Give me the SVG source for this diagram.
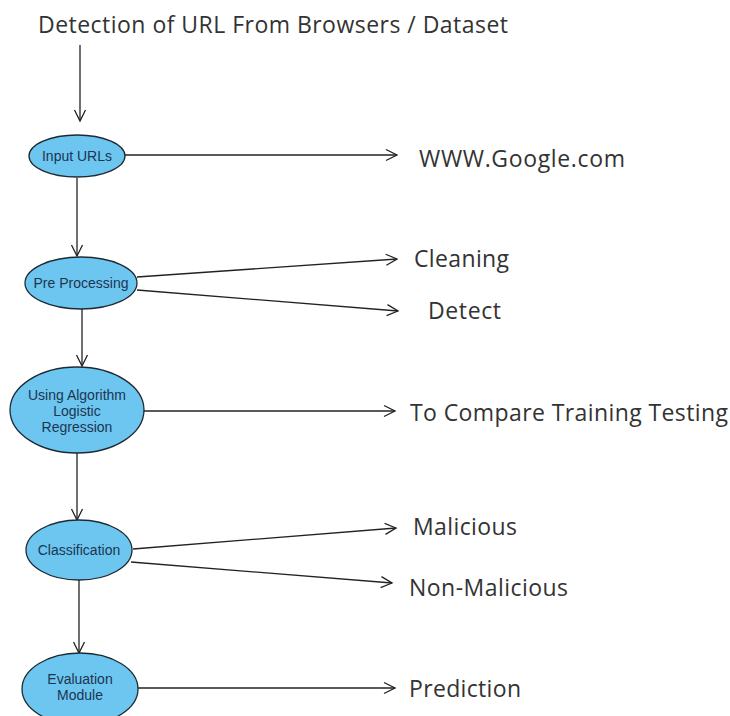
<svg xmlns="http://www.w3.org/2000/svg" width="730" height="716" viewBox="0 0 730 716">
<defs>
<marker id="arr" markerWidth="14" markerHeight="14" refX="12" refY="7" orient="auto" markerUnits="userSpaceOnUse">
<path d="M1,1.5 L12,7 L1,12.5" fill="none" stroke="#222" stroke-width="1.3"/>
</marker>
</defs>
<style>
.node ellipse{fill:#6cc6f0;stroke:#1e2a33;stroke-width:1.3}
.node text{font-family:"Liberation Sans",Arial,sans-serif;font-size:14px;fill:#1d3550;text-anchor:middle}
.conn line{stroke:#222;stroke-width:1.3;marker-end:url(#arr)}
.lbl{font-family:"Open Sans","Noto Sans",sans-serif;font-size:23px;fill:#333}
</style>
<rect width="730" height="716" fill="#fff"/>
<text class="lbl" x="38" y="33" textLength="470" lengthAdjust="spacing">Detection of URL From Browsers / Dataset</text>
<g class="conn">
<line x1="80" y1="45" x2="80" y2="121"/>
<line x1="77" y1="178" x2="77" y2="256"/>
<line x1="82" y1="309" x2="82" y2="366"/>
<line x1="77" y1="453" x2="77" y2="520"/>
<line x1="79" y1="580" x2="79" y2="653"/>
<line x1="125" y1="155" x2="397" y2="155"/>
<line x1="137" y1="277" x2="397" y2="259"/>
<line x1="137" y1="290" x2="398" y2="311"/>
<line x1="143" y1="411" x2="395" y2="411"/>
<line x1="133" y1="549" x2="396" y2="528"/>
<line x1="131" y1="562" x2="392" y2="583"/>
<line x1="138" y1="688" x2="395" y2="688"/>
</g>
<g id="n1" class="node"><ellipse cx="77" cy="156" rx="48" ry="21"/><text x="77" y="161">Input URLs</text></g>
<g id="n2" class="node"><ellipse cx="81" cy="283" rx="56" ry="26"/><text x="81" y="288">Pre Processing</text></g>
<g id="n3" class="node"><ellipse cx="77" cy="410" rx="67" ry="43"/><text x="77" y="400">Using Algorithm</text><text x="77" y="416">Logistic</text><text x="77" y="432">Regression</text></g>
<g id="n4" class="node"><ellipse cx="79" cy="550" rx="53" ry="30"/><text x="79" y="555">Classification</text></g>
<g id="n5" class="node"><ellipse cx="80" cy="689" rx="58" ry="36"/><text x="80" y="684">Evaluation</text><text x="80" y="700">Module</text></g>
<text class="lbl" x="419" y="167" textLength="206" lengthAdjust="spacing">WWW.Google.com</text>
<text class="lbl" x="414" y="267" textLength="95" lengthAdjust="spacing">Cleaning</text>
<text class="lbl" x="428" y="319" textLength="73" lengthAdjust="spacing">Detect</text>
<text class="lbl" x="410" y="421" textLength="318" lengthAdjust="spacing">To Compare Training Testing</text>
<text class="lbl" x="413" y="535" textLength="104" lengthAdjust="spacing">Malicious</text>
<text class="lbl" x="409" y="596" textLength="159" lengthAdjust="spacing">Non-Malicious</text>
<text class="lbl" x="409" y="697" textLength="112" lengthAdjust="spacing">Prediction</text>
</svg>
